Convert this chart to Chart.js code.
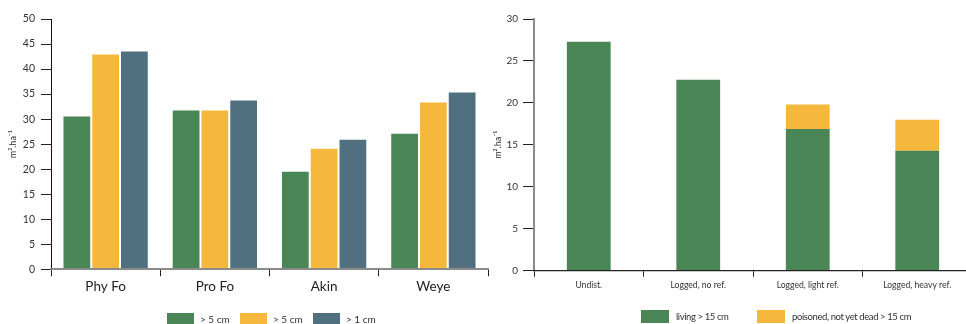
<!DOCTYPE html>
<html>
<head>
<meta charset="utf-8">
<script src="https://cdn.jsdelivr.net/npm/chart.js@4.4.1/dist/chart.umd.min.js"></script>
<style>
  html, body { margin: 0; padding: 0; width: 966px; height: 324px; overflow: hidden; background: #fff; }
  #left { position: absolute; left: 0; top: 0; width: 492px; height: 324px; }
  #right { position: absolute; left: 480px; top: 0; width: 496px; height: 324px; }
  .legend { position: absolute; display: flex; font-family: Lato, sans-serif; font-size: 10px; color: #333; white-space: nowrap; }
  .legend .item { display: flex; align-items: center; }
  .legend .box { display: inline-block; flex: none; }
  #rightLegend { font-size: 9.5px; letter-spacing: -0.4px; }
</style>
</head>
<body>
<div id="left"><canvas id="sizeChart"></canvas></div>
<div id="right"><canvas id="refChart"></canvas></div>
<div id="leftLegend" class="legend" style="left:167px; top:313px;"></div>
<div id="rightLegend" class="legend" style="left:641px; top:310px;"></div>
<script>
// left panel: basal area per site and size class
const sites = ["Phy Fo", "Pro Fo", "Akin", "Weye"];
const sizeLabels = ["> 5 cm", "> 5 cm", "> 1 cm"];
const sizeA = [30.5, 31.7, 19.5, 27.1];
const sizeB = [42.9, 31.7, 24.1, 33.3];
const sizeC = [43.5, 33.7, 25.9, 35.3];

// right panel: basal area per treatment
const treatments = ["Undist.", "Logged, no ref.", "Logged, light ref.", "Logged, heavy ref."];
const stackLabels = ["living > 15 cm", "poisoned, not yet dead > 15 cm"];
const living = [27.3, 22.75, 16.9, 14.3];
const poisoned = [0, 0, 2.9, 3.7];

const GREEN = "#4a8556";
const YELLOW = "#f5b83d";
const BLUE = "#507080";
const UNIT = "m\u00b2.ha\u207b\u00b9";

Chart.defaults.font.family = "Lato, sans-serif";
Chart.defaults.color = "#333";

function buildLegend(chart, el, o) {
    chart.data.datasets.forEach(ds => {
        const item = document.createElement("div");
        item.className = "item";
        item.style.width = o.pitch + "px";
        const box = document.createElement("span");
        box.className = "box";
        box.style.background = ds.backgroundColor;
        box.style.width = o.bw + "px";
        box.style.height = o.bh + "px";
        box.style.marginRight = o.gap + "px";
        const txt = document.createElement("span");
        txt.textContent = ds.label;
        item.appendChild(box);
        item.appendChild(txt);
        el.appendChild(item);
    });
}

const sizeChart = new Chart(document.getElementById("sizeChart"), {
    type: "bar",
    data: {
        labels: sites,
        datasets: [
            { label: sizeLabels[0], data: sizeA, backgroundColor: GREEN },
            { label: sizeLabels[1], data: sizeB, backgroundColor: YELLOW },
            { label: sizeLabels[2], data: sizeC, backgroundColor: BLUE }
        ]
    },
    options: {
        responsive: true,
        maintainAspectRatio: false,
        animation: false,
        layout: { padding: { top: 19, right: 4, left: 0, bottom: 0 } },
        datasets: { bar: { categoryPercentage: 0.79, barPercentage: 0.93 } },
        plugins: { legend: { display: false }, tooltip: { enabled: false } },
        scales: {
            x: {
                grid: { drawOnChartArea: false, offset: true, tickLength: 7, color: "#222" },
                border: { color: "#8a8a8a", width: 2, z: 1 },
                ticks: { color: "#222", font: { size: 13.5 }, padding: 2 },
                afterFit: s => { s.height = 54.7; }
            },
            y: {
                min: 0,
                max: 50,
                ticks: { stepSize: 5, padding: 6, color: "#333", font: { size: 10.5 } },
                grid: { drawOnChartArea: false, tickLength: 10, color: "#222" },
                border: { color: "#111", width: 1 },
                title: { display: true, text: UNIT, font: { size: 9 }, color: "#333", padding: { top: 8, bottom: 0 } },
                afterFit: s => { s.width = 51; }
            }
        }
    }
});

const refChart = new Chart(document.getElementById("refChart"), {
    type: "bar",
    data: {
        labels: treatments,
        datasets: [
            { label: stackLabels[0], data: living, backgroundColor: GREEN },
            { label: stackLabels[1], data: poisoned, backgroundColor: YELLOW }
        ]
    },
    options: {
        responsive: true,
        maintainAspectRatio: false,
        animation: false,
        layout: { padding: { top: 19, right: 4, left: 0, bottom: 0 } },
        datasets: { bar: { categoryPercentage: 1, barPercentage: 0.4 } },
        plugins: { legend: { display: false }, tooltip: { enabled: false } },
        scales: {
            x: {
                stacked: true,
                grid: { drawOnChartArea: false, offset: true, tickLength: 6, color: "#222" },
                border: { color: "#222", width: 1.3, z: 1 },
                ticks: { color: "#333", font: { size: 8.6 }, padding: 3 },
                afterFit: s => { s.height = 53.3; }
            },
            y: {
                stacked: true,
                min: 0,
                max: 30,
                ticks: { stepSize: 5, padding: 5, color: "#333", font: { size: 10 } },
                grid: { drawOnChartArea: false, tickLength: 11, color: "#222" },
                border: { color: "#8a8a8a", width: 2 },
                title: { display: true, text: UNIT, font: { size: 9 }, color: "#333", padding: { top: 12.6, bottom: 0 } },
                afterFit: s => { s.width = 54; }
            }
        }
    }
});

buildLegend(sizeChart, document.getElementById("leftLegend"), { pitch: 73, bw: 27, bh: 12, gap: 6 });
buildLegend(refChart, document.getElementById("rightLegend"), { pitch: 116, bw: 28, bh: 13, gap: 7 });
</script>
</body>
</html>
